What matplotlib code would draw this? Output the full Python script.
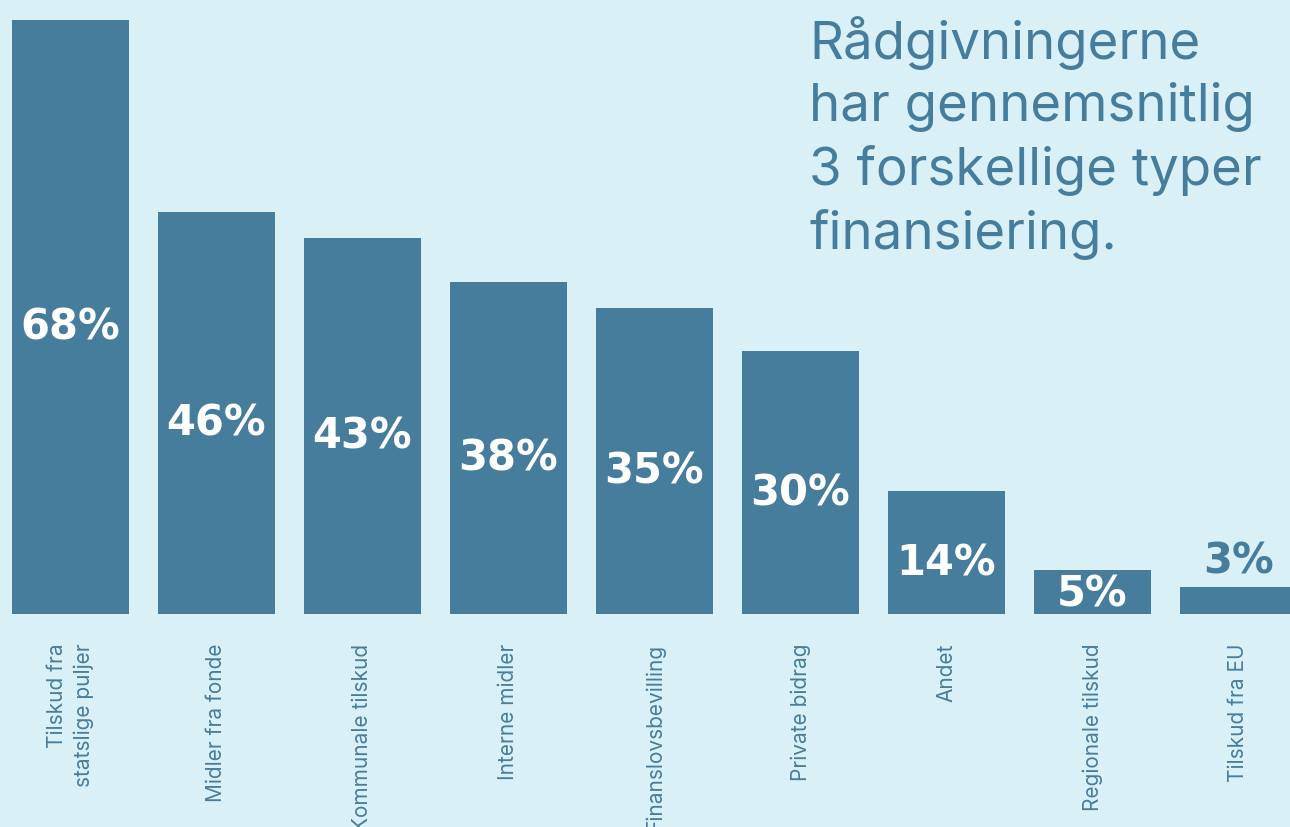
import matplotlib.pyplot as plt
import numpy as np

categories = ['Tilskud fra\nstatslige puljer', 'Midler fra fonde', 'Kommunale tilskud',
              'Interne midler', 'Finanslovsbevilling', 'Private bidrag', 'Andet',
              'Regionale tilskud', 'Tilskud fra EU']
values = [68, 46, 43, 38, 35, 30, 14, 5, 3]
title_text = 'Rådgivningerne\nhar gennemsnitlig\n3 forskellige typer\nfinansiering.'

bg = '#daf0f7'
bar_color = '#467d9d'

fig = plt.figure(figsize=(12.9, 8.28), dpi=100, facecolor=bg)
ax = fig.add_axes([0, 213.5 / 828, 1, 614.5 / 828])
ax.set_facecolor(bg)

x = np.arange(len(values))
ax.bar(x, values, width=117 / 146, color=bar_color)
ax.set_xlim(-70.5 / 146, (1290 - 70.5) / 146)
ax.set_ylim(0, 614.5 / 8.735)

for s in ax.spines.values():
    s.set_visible(False)
ax.set_yticks([])
ax.set_xticks(x)
ax.set_xticklabels(categories, rotation=90, fontsize=15, color=bar_color,
                   family=['Inter', 'DejaVu Sans'], multialignment='right',
                   linespacing=1.45)
ax.tick_params(axis='x', length=0, pad=21)

for xi, v in zip(x, values):
    if v >= 5:
        # small bars: keep the label inside the bar
        off = -10 if v > 10 else -2
        ax.annotate(f'{v}%', (xi, v / 2), xytext=(0, off), textcoords='offset pixels',
                    ha='center', va='center', color='white', fontsize=30,
                    fontweight='bold', family='DejaVu Sans')
    else:
        ax.annotate(f'{v}%', (xi, v), xytext=(0, 27), textcoords='offset pixels',
                    ha='center', va='center', color=bar_color, fontsize=30,
                    fontweight='bold', family='DejaVu Sans')

fig.text(809 / 1290, 1 - 16 / 828, title_text, ha='left', va='top', fontsize=38,
         color=bar_color, family=['Inter', 'DejaVu Sans'], linespacing=1.32)

fig.savefig('out.png', dpi=100, facecolor=bg)
